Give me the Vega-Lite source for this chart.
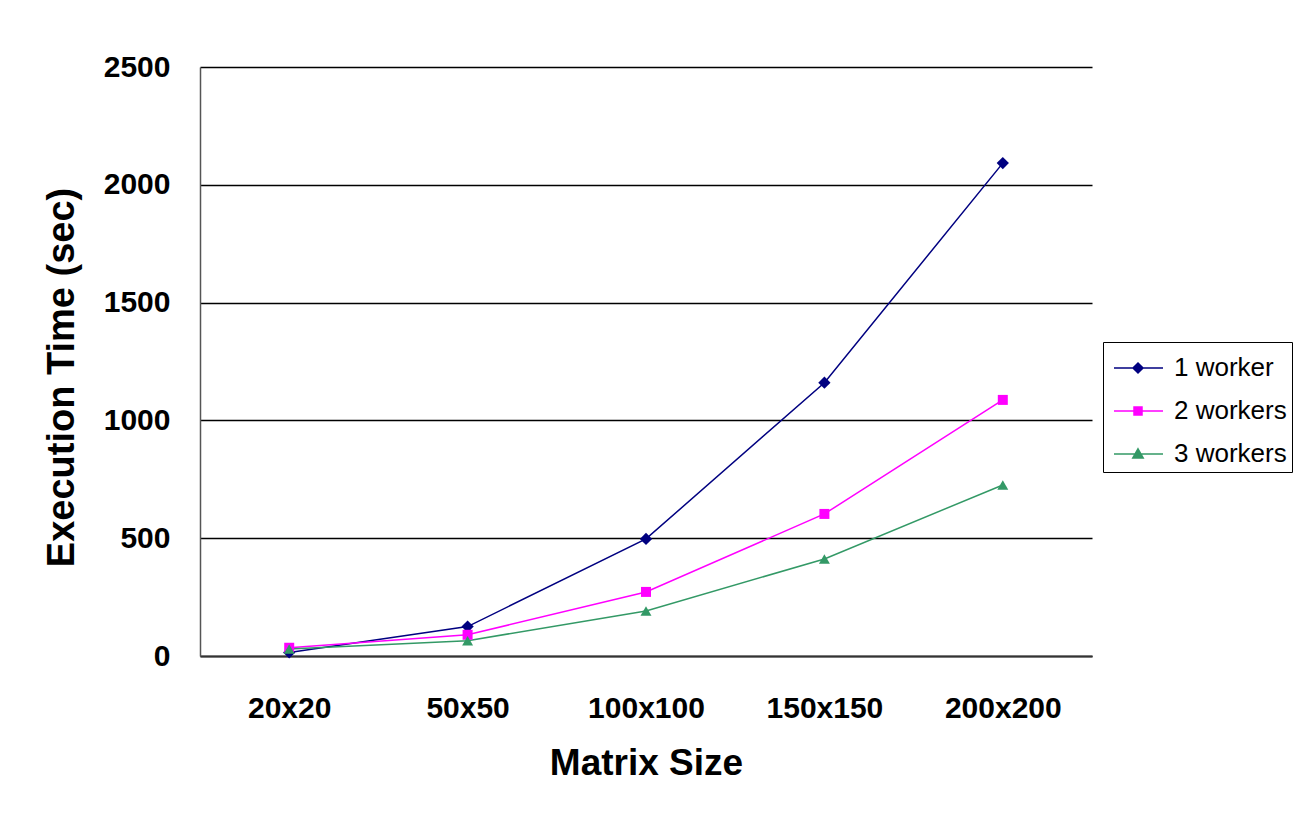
{
  "$schema": "https://vega.github.io/schema/vega-lite/v6.json",
  "width": 892,
  "height": 589,
  "autosize": {"type": "none"},
  "padding": {"left": 200, "top": 67, "right": 213, "bottom": 158},
  "background": "white",
  "data": {
    "values": [
      {"size": "20x20", "series": "1 worker", "time": 15},
      {"size": "50x50", "series": "1 worker", "time": 125},
      {"size": "100x100", "series": "1 worker", "time": 497},
      {"size": "150x150", "series": "1 worker", "time": 1160},
      {"size": "200x200", "series": "1 worker", "time": 2092},
      {"size": "20x20", "series": "2 workers", "time": 35},
      {"size": "50x50", "series": "2 workers", "time": 90},
      {"size": "100x100", "series": "2 workers", "time": 272},
      {"size": "150x150", "series": "2 workers", "time": 603},
      {"size": "200x200", "series": "2 workers", "time": 1087},
      {"size": "20x20", "series": "3 workers", "time": 30},
      {"size": "50x50", "series": "3 workers", "time": 65},
      {"size": "100x100", "series": "3 workers", "time": 191},
      {"size": "150x150", "series": "3 workers", "time": 412},
      {"size": "200x200", "series": "3 workers", "time": 726}
    ]
  },
  "encoding": {
    "x": {
      "field": "size",
      "type": "ordinal",
      "sort": ["20x20", "50x50", "100x100", "150x150", "200x200"],
      "scale": {"type": "point", "padding": 0.5},
      "axis": {
        "title": "Matrix Size",
        "labelAngle": 0,
        "ticks": false,
        "grid": false,
        "labelPadding": 37,
        "labelFont": "Liberation Sans",
        "labelFontWeight": "bold",
        "labelFontSize": 30,
        "labelColor": "#000",
        "domainColor": "#333",
        "domainWidth": 2,
        "titleFont": "Liberation Sans",
        "titleFontWeight": "bold",
        "titleFontSize": 37,
        "titleColor": "#000",
        "titlePadding": 22
      }
    },
    "y": {
      "field": "time",
      "type": "quantitative",
      "scale": {"domain": [0, 2500], "nice": false},
      "axis": {
        "title": "Execution Time (sec)",
        "values": [0, 500, 1000, 1500, 2000, 2500],
        "format": "d",
        "ticks": false,
        "grid": true,
        "gridColor": "#000",
        "gridWidth": 1.3,
        "gridOpacity": 1,
        "labelPadding": 30,
        "labelFont": "Liberation Sans",
        "labelFontWeight": "bold",
        "labelFontSize": 30,
        "labelColor": "#000",
        "domainColor": "#555",
        "domainWidth": 1.5,
        "titleFont": "Liberation Sans",
        "titleFontWeight": "bold",
        "titleFontSize": 38,
        "titleColor": "#000",
        "titlePadding": 22,
        "titleY": 310
      }
    },
    "color": {
      "field": "series",
      "type": "nominal",
      "scale": {
        "domain": ["1 worker", "2 workers", "3 workers"],
        "range": ["#000080", "#FF00FF", "#339966"]
      },
      "legend": {
        "title": null,
        "orient": "none",
        "legendX": 903,
        "legendY": 275,
        "strokeColor": "#000",
        "fillColor": "white",
        "padding": 5,
        "labelFont": "Liberation Sans",
        "labelFontSize": 26,
        "labelColor": "#000",
        "symbolSize": 1600,
        "labelOffset": 24,
        "rowPadding": 9,
        "encode": {
          "symbols": {
            "update": {
              "shape": {
                "signal": "datum.value === '1 worker' ? 'M-0.75,0L1.7,0M0.45,-0.25L0.7,0L0.45,0.25L0.2,0Z' : datum.value === '2 workers' ? 'M-0.75,0L1.7,0M0.25,-0.2L0.65,-0.2L0.65,0.2L0.25,0.2Z' : 'M-0.75,0L1.7,0M0.45,-0.26L0.71,0.2L0.19,0.2Z'"
              },
              "stroke": {"scale": "color", "field": "value"},
              "fill": {"scale": "color", "field": "value"},
              "strokeWidth": {"value": 1.5},
              "opacity": {"value": 1}
            }
          }
        }
      }
    }
  },
  "layer": [
    {
      "mark": {"type": "line", "strokeWidth": 1.5}
    },
    {
      "transform": [{"filter": "datum.series === '1 worker'"}],
      "mark": {"type": "point", "filled": true, "shape": "diamond", "size": 150, "opacity": 1}
    },
    {
      "transform": [{"filter": "datum.series === '2 workers'"}],
      "mark": {"type": "point", "filled": true, "shape": "square", "size": 100, "opacity": 1}
    },
    {
      "transform": [{"filter": "datum.series === '3 workers'"}],
      "mark": {"type": "point", "filled": true, "shape": "triangle-up", "size": 120, "opacity": 1}
    }
  ],
  "config": {
    "view": {"stroke": null}
  }
}
